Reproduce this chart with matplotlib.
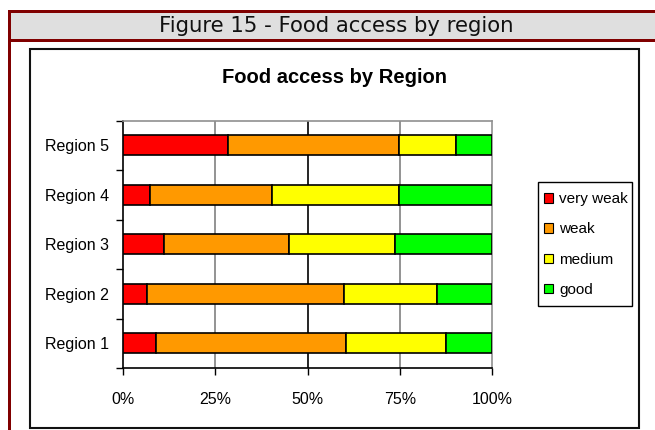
import matplotlib
matplotlib.use("Agg")
import matplotlib.pyplot as plt
from matplotlib.patches import Rectangle, Patch
import numpy as np

regions = ["Region 1", "Region 2", "Region 3", "Region 4", "Region 5"]
very_weak = [8.9, 6.4, 11.0, 7.3, 28.5]
weak = [51.6, 53.6, 34.1, 33.0, 46.4]
medium = [27.1, 25.0, 28.5, 34.6, 15.3]
good = [12.4, 15.0, 26.4, 25.1, 9.8]
series_names = ["very weak", "weak", "medium", "good"]
series_colors = ["#FF0000", "#FF9900", "#FFFF00", "#00FF00"]
xticks = [0, 25, 50, 75, 100]
xticklabels = ["0%", "25%", "50%", "75%", "100%"]

W, H = 655, 430
fig = plt.figure(figsize=(W / 100, H / 100), dpi=100)
plt.rcParams['font.family'] = ['Liberation Sans', 'DejaVu Sans']

# background decoration axes in pixel coordinates
bg = fig.add_axes([0, 0, 1, 1], zorder=0)
bg.set_xlim(0, W)
bg.set_ylim(H, 0)
bg.axis("off")
dark_red = "#800000"
bg.add_patch(Rectangle((8, 12), W - 8, 27, facecolor="#DFDFDF", edgecolor="none"))
bg.add_patch(Rectangle((8, 9.5), W - 8, 3, facecolor=dark_red, edgecolor="none"))
bg.add_patch(Rectangle((8, 39), W - 8, 3, facecolor=dark_red, edgecolor="none"))
bg.add_patch(Rectangle((8, 9.5), 2.5, H - 9.5, facecolor=dark_red, edgecolor="none"))
bg.text(336, 26.5, "Figure 15 - Food access by region", fontsize=15.3,
        family="DejaVu Sans", ha="center", va="center", color="#111111")
# chart box with slight shadow
bg.add_patch(Rectangle((31, 50), 609, 379, facecolor="#A0A0A0", edgecolor="none"))
bg.add_patch(Rectangle((30, 49), 609, 379, facecolor="white", edgecolor="#111111", linewidth=1.5))
bg.text(335, 77.5, "Food access by Region", fontsize=14.5, fontweight="bold",
        ha="center", va="center", color="black")
# legend frame
bg.add_patch(Rectangle((538, 182), 94, 124, facecolor="white", edgecolor="black", linewidth=1.0))

# main plot
x0, x1, y0, y1 = 123, 492, 120.5, 368
ax = fig.add_axes([x0 / W, 1 - y1 / H, (x1 - x0) / W, (y1 - y0) / H], zorder=1)
ax.patch.set_alpha(0)
ypos = np.arange(len(regions))
left = np.zeros(len(regions))
for vals, name, col in zip([very_weak, weak, medium, good], series_names, series_colors):
    ax.barh(ypos, vals, left=left, height=0.41, color=col, edgecolor="black",
            linewidth=1.2, label=name, zorder=3)
    left = left + np.array(vals)

ax.set_xlim(0, 100)
ax.set_ylim(-0.5, len(regions) - 0.5)
ax.set_xticks(xticks)
ax.set_xticklabels(xticklabels, fontsize=11.5)
ax.set_yticks(ypos)
ax.set_yticklabels(regions, fontsize=11.5)
ax.set_yticks(np.arange(-0.5, len(regions)), minor=True)
ax.tick_params(axis="y", which="major", length=0, pad=10)
ax.tick_params(axis="y", which="minor", length=5, width=1, color="black", direction="out")
ax.tick_params(axis="x", which="major", length=5, width=1, direction="out", pad=12)
for v in xticks[1:-1]:
    ax.axvline(v, color="black" if v == 50 else "#808080", linewidth=1.2, zorder=1)
for s in ["top", "right"]:
    ax.spines[s].set_color("#909090")
    ax.spines[s].set_linewidth(1.2)
for s in ["left", "bottom"]:
    ax.spines[s].set_color("black")
    ax.spines[s].set_linewidth(1.2)

handles = [Patch(facecolor=c, edgecolor="black", linewidth=0.8) for c in series_colors]
leg = ax.legend(handles, series_names, loc="center",
                bbox_to_anchor=(586 / W, 1 - 244.5 / H), bbox_transform=fig.transFigure,
                fontsize=11, frameon=False, borderaxespad=0,
                handlelength=0.55, handleheight=0.55, handletextpad=0.4,
                labelspacing=1.05, borderpad=0.2)

fig.savefig("out.png", dpi=100)
